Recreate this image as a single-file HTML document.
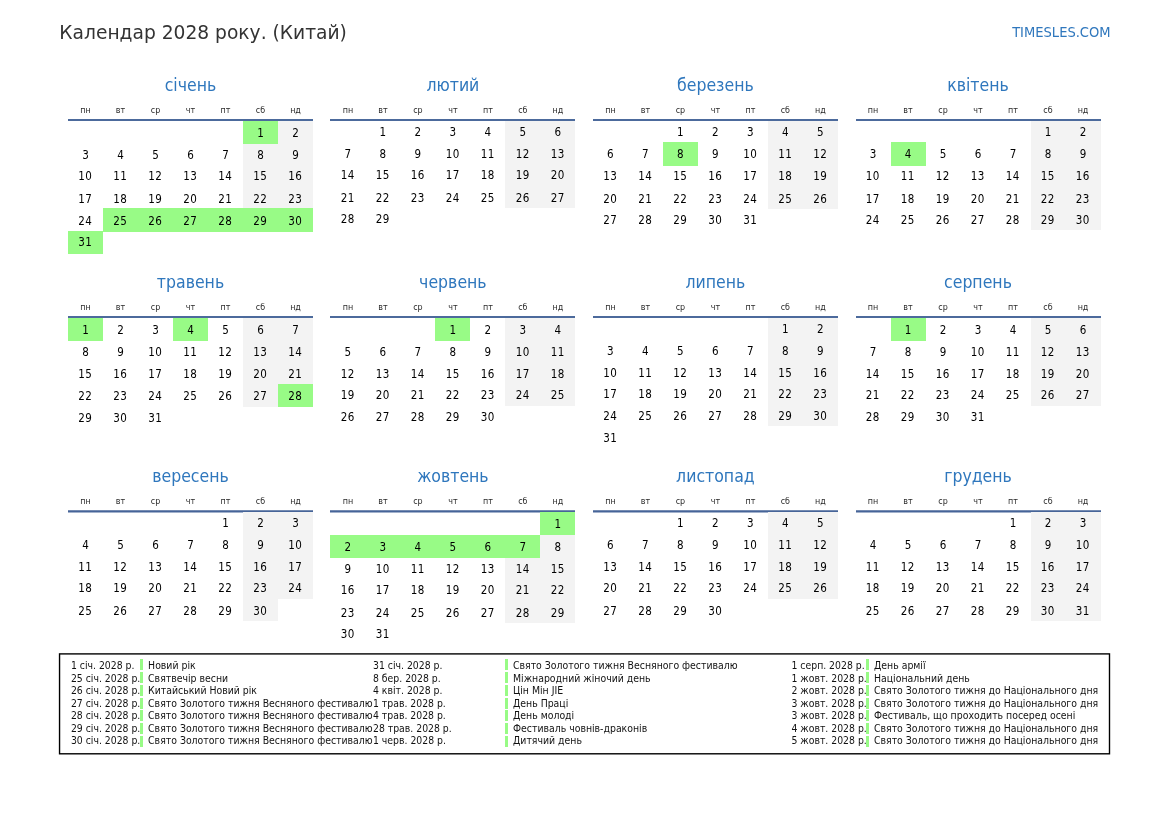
<!DOCTYPE html>
<html lang="uk"><head><meta charset="utf-8"><title>Календар 2028 року. (Китай)</title>
<style>
html,body{margin:0;padding:0;background:#fff}
body{width:1169px;height:827px;position:relative;overflow:hidden;font-family:"DejaVu Sans","Liberation Sans",sans-serif;color:#000}
.c{font-family:"DejaVu Sans Condensed","DejaVu Sans","Liberation Sans",sans-serif;font-stretch:condensed}
.a{position:absolute;white-space:nowrap}
.t{color:#333}
.b{color:#2f77bd}
.m{position:absolute;width:245px}
.mn{position:absolute;left:0;width:100%;text-align:center;color:#2f77bd;font-size:17.5px}
.wd{position:absolute;width:35px;text-align:center;font-size:8.9px;color:#2a2a2a}
.ln{position:absolute;left:0;width:100%;height:2px;background:#4c6a9c}
.ln3{top:0;height:3px;background:linear-gradient(to bottom,rgba(70,100,152,.75) 0,rgba(70,100,152,.75) 1px,rgb(70,100,152) 1px,rgb(70,100,152) 2px,rgba(70,100,152,.5) 2px,rgba(70,100,152,.5) 3px)}
.d{position:absolute;box-sizing:border-box;width:35px;text-align:center;font-size:11.5px;color:#000}
.w{letter-spacing:.42px;text-indent:-0.4px}
.g{background:#f3f3f3}
.h{background:#98fb86}
.hd,.hn{position:absolute;white-space:nowrap;font-size:10.4px;color:#111}
.hd{font-size:10.35px}
.bar{position:absolute;width:2.6px;background:#98fb86}
</style></head><body>

<div class="a t" style="left:59.3px;top:21.01px;font-size:18.67px;line-height:24.27px">Календар 2028 року. (Китай)</div>
<div class="a b c" style="right:58.40px;top:23.31px;font-size:14.55px;line-height:18.92px">TIMESLES.COM</div>
<div class="m c" style="left:68px;top:119.1px">
<div class="mn" style="top:-44.83px;line-height:22.75px">січень</div>
<div class="wd" style="left:0px;top:-14.06px;line-height:11.57px">пн</div>
<div class="wd" style="left:35px;top:-14.06px;line-height:11.57px">вт</div>
<div class="wd" style="left:70px;top:-14.06px;line-height:11.57px">ср</div>
<div class="wd" style="left:105px;top:-14.06px;line-height:11.57px">чт</div>
<div class="wd" style="left:140px;top:-14.06px;line-height:11.57px">пт</div>
<div class="wd" style="left:175px;top:-14.06px;line-height:11.57px">сб</div>
<div class="wd" style="left:210px;top:-14.06px;line-height:11.57px">нд</div>
<div class="ln" style="top:0"></div>
<div class="d h" style="left:175px;top:1.50px;height:23.45px;padding-top:0.4px;line-height:24.60px">1</div>
<div class="d g" style="left:210px;top:1.90px;height:22.75px;line-height:24.60px">2</div>
<div class="d" style="left:0px;top:24.60px;height:21.73px;line-height:23.20px">3</div>
<div class="d" style="left:35px;top:24.60px;height:21.73px;line-height:23.20px">4</div>
<div class="d" style="left:70px;top:24.60px;height:21.73px;line-height:23.20px">5</div>
<div class="d" style="left:105px;top:24.60px;height:21.73px;line-height:23.20px">6</div>
<div class="d" style="left:140px;top:24.60px;height:21.73px;line-height:23.20px">7</div>
<div class="d g" style="left:175px;top:24.60px;height:21.73px;line-height:23.20px">8</div>
<div class="d g" style="left:210px;top:24.60px;height:21.73px;line-height:23.20px">9</div>
<div class="d w" style="left:0px;top:46.28px;height:21.73px;line-height:23.84px">10</div>
<div class="d w" style="left:35px;top:46.28px;height:21.73px;line-height:23.84px">11</div>
<div class="d w" style="left:70px;top:46.28px;height:21.73px;line-height:23.84px">12</div>
<div class="d w" style="left:105px;top:46.28px;height:21.73px;line-height:23.84px">13</div>
<div class="d w" style="left:140px;top:46.28px;height:21.73px;line-height:23.84px">14</div>
<div class="d g w" style="left:175px;top:46.28px;height:21.73px;line-height:23.84px">15</div>
<div class="d g w" style="left:210px;top:46.28px;height:21.73px;line-height:23.84px">16</div>
<div class="d w" style="left:0px;top:67.96px;height:21.73px;line-height:24.48px">17</div>
<div class="d w" style="left:35px;top:67.96px;height:21.73px;line-height:24.48px">18</div>
<div class="d w" style="left:70px;top:67.96px;height:21.73px;line-height:24.48px">19</div>
<div class="d w" style="left:105px;top:67.96px;height:21.73px;line-height:24.48px">20</div>
<div class="d w" style="left:140px;top:67.96px;height:21.73px;line-height:24.48px">21</div>
<div class="d g w" style="left:175px;top:67.96px;height:21.73px;line-height:24.48px">22</div>
<div class="d g w" style="left:210px;top:67.96px;height:21.73px;line-height:24.48px">23</div>
<div class="d w" style="left:0px;top:89.64px;height:22.75px;line-height:25.12px">24</div>
<div class="d h w" style="left:35px;top:89.24px;height:23.45px;padding-top:0.4px;line-height:25.12px">25</div>
<div class="d h w" style="left:70px;top:89.24px;height:23.45px;padding-top:0.4px;line-height:25.12px">26</div>
<div class="d h w" style="left:105px;top:89.24px;height:23.45px;padding-top:0.4px;line-height:25.12px">27</div>
<div class="d h w" style="left:140px;top:89.24px;height:23.45px;padding-top:0.4px;line-height:25.12px">28</div>
<div class="d h w" style="left:175px;top:89.24px;height:23.45px;padding-top:0.4px;line-height:25.12px">29</div>
<div class="d h w" style="left:210px;top:89.24px;height:23.45px;padding-top:0.4px;line-height:25.12px">30</div>
<div class="d h w" style="left:0px;top:111.94px;height:23.45px;padding-top:0.4px;line-height:23.72px">31</div>
</div>
<div class="m c" style="left:330.4px;top:119.1px">
<div class="mn" style="top:-44.83px;line-height:22.75px">лютий</div>
<div class="wd" style="left:0px;top:-14.06px;line-height:11.57px">пн</div>
<div class="wd" style="left:35px;top:-14.06px;line-height:11.57px">вт</div>
<div class="wd" style="left:70px;top:-14.06px;line-height:11.57px">ср</div>
<div class="wd" style="left:105px;top:-14.06px;line-height:11.57px">чт</div>
<div class="wd" style="left:140px;top:-14.06px;line-height:11.57px">пт</div>
<div class="wd" style="left:175px;top:-14.06px;line-height:11.57px">сб</div>
<div class="wd" style="left:210px;top:-14.06px;line-height:11.57px">нд</div>
<div class="ln" style="top:0"></div>
<div class="d" style="left:35px;top:1.90px;height:21.73px;line-height:22.60px">1</div>
<div class="d" style="left:70px;top:1.90px;height:21.73px;line-height:22.60px">2</div>
<div class="d" style="left:105px;top:1.90px;height:21.73px;line-height:22.60px">3</div>
<div class="d" style="left:140px;top:1.90px;height:21.73px;line-height:22.60px">4</div>
<div class="d g" style="left:175px;top:1.90px;height:21.73px;line-height:22.60px">5</div>
<div class="d g" style="left:210px;top:1.90px;height:21.73px;line-height:22.60px">6</div>
<div class="d" style="left:0px;top:23.58px;height:21.73px;line-height:23.24px">7</div>
<div class="d" style="left:35px;top:23.58px;height:21.73px;line-height:23.24px">8</div>
<div class="d" style="left:70px;top:23.58px;height:21.73px;line-height:23.24px">9</div>
<div class="d w" style="left:105px;top:23.58px;height:21.73px;line-height:23.24px">10</div>
<div class="d w" style="left:140px;top:23.58px;height:21.73px;line-height:23.24px">11</div>
<div class="d g w" style="left:175px;top:23.58px;height:21.73px;line-height:23.24px">12</div>
<div class="d g w" style="left:210px;top:23.58px;height:21.73px;line-height:23.24px">13</div>
<div class="d w" style="left:0px;top:45.26px;height:21.73px;line-height:23.88px">14</div>
<div class="d w" style="left:35px;top:45.26px;height:21.73px;line-height:23.88px">15</div>
<div class="d w" style="left:70px;top:45.26px;height:21.73px;line-height:23.88px">16</div>
<div class="d w" style="left:105px;top:45.26px;height:21.73px;line-height:23.88px">17</div>
<div class="d w" style="left:140px;top:45.26px;height:21.73px;line-height:23.88px">18</div>
<div class="d g w" style="left:175px;top:45.26px;height:21.73px;line-height:23.88px">19</div>
<div class="d g w" style="left:210px;top:45.26px;height:21.73px;line-height:23.88px">20</div>
<div class="d w" style="left:0px;top:66.94px;height:21.73px;line-height:24.52px">21</div>
<div class="d w" style="left:35px;top:66.94px;height:21.73px;line-height:24.52px">22</div>
<div class="d w" style="left:70px;top:66.94px;height:21.73px;line-height:24.52px">23</div>
<div class="d w" style="left:105px;top:66.94px;height:21.73px;line-height:24.52px">24</div>
<div class="d w" style="left:140px;top:66.94px;height:21.73px;line-height:24.52px">25</div>
<div class="d g w" style="left:175px;top:66.94px;height:21.73px;line-height:24.52px">26</div>
<div class="d g w" style="left:210px;top:66.94px;height:21.73px;line-height:24.52px">27</div>
<div class="d w" style="left:0px;top:88.62px;height:21.73px;line-height:23.16px">28</div>
<div class="d w" style="left:35px;top:88.62px;height:21.73px;line-height:23.16px">29</div>
</div>
<div class="m c" style="left:592.9px;top:119.1px">
<div class="mn" style="top:-44.83px;line-height:22.75px">березень</div>
<div class="wd" style="left:0px;top:-14.06px;line-height:11.57px">пн</div>
<div class="wd" style="left:35px;top:-14.06px;line-height:11.57px">вт</div>
<div class="wd" style="left:70px;top:-14.06px;line-height:11.57px">ср</div>
<div class="wd" style="left:105px;top:-14.06px;line-height:11.57px">чт</div>
<div class="wd" style="left:140px;top:-14.06px;line-height:11.57px">пт</div>
<div class="wd" style="left:175px;top:-14.06px;line-height:11.57px">сб</div>
<div class="wd" style="left:210px;top:-14.06px;line-height:11.57px">нд</div>
<div class="ln" style="top:0"></div>
<div class="d" style="left:70px;top:1.90px;height:21.73px;line-height:22.60px">1</div>
<div class="d" style="left:105px;top:1.90px;height:21.73px;line-height:22.60px">2</div>
<div class="d" style="left:140px;top:1.90px;height:21.73px;line-height:22.60px">3</div>
<div class="d g" style="left:175px;top:1.90px;height:21.73px;line-height:22.60px">4</div>
<div class="d g" style="left:210px;top:1.90px;height:21.73px;line-height:22.60px">5</div>
<div class="d" style="left:0px;top:23.58px;height:22.75px;line-height:23.24px">6</div>
<div class="d" style="left:35px;top:23.58px;height:22.75px;line-height:23.24px">7</div>
<div class="d h" style="left:70px;top:23.18px;height:23.45px;padding-top:0.4px;line-height:23.24px">8</div>
<div class="d" style="left:105px;top:23.58px;height:22.75px;line-height:23.24px">9</div>
<div class="d w" style="left:140px;top:23.58px;height:22.75px;line-height:23.24px">10</div>
<div class="d g w" style="left:175px;top:23.58px;height:22.75px;line-height:23.24px">11</div>
<div class="d g w" style="left:210px;top:23.58px;height:22.75px;line-height:23.24px">12</div>
<div class="d w" style="left:0px;top:46.28px;height:21.73px;line-height:23.84px">13</div>
<div class="d w" style="left:35px;top:46.28px;height:21.73px;line-height:23.84px">14</div>
<div class="d w" style="left:70px;top:46.28px;height:21.73px;line-height:23.84px">15</div>
<div class="d w" style="left:105px;top:46.28px;height:21.73px;line-height:23.84px">16</div>
<div class="d w" style="left:140px;top:46.28px;height:21.73px;line-height:23.84px">17</div>
<div class="d g w" style="left:175px;top:46.28px;height:21.73px;line-height:23.84px">18</div>
<div class="d g w" style="left:210px;top:46.28px;height:21.73px;line-height:23.84px">19</div>
<div class="d w" style="left:0px;top:67.96px;height:21.73px;line-height:24.48px">20</div>
<div class="d w" style="left:35px;top:67.96px;height:21.73px;line-height:24.48px">21</div>
<div class="d w" style="left:70px;top:67.96px;height:21.73px;line-height:24.48px">22</div>
<div class="d w" style="left:105px;top:67.96px;height:21.73px;line-height:24.48px">23</div>
<div class="d w" style="left:140px;top:67.96px;height:21.73px;line-height:24.48px">24</div>
<div class="d g w" style="left:175px;top:67.96px;height:21.73px;line-height:24.48px">25</div>
<div class="d g w" style="left:210px;top:67.96px;height:21.73px;line-height:24.48px">26</div>
<div class="d w" style="left:0px;top:89.64px;height:21.73px;line-height:23.12px">27</div>
<div class="d w" style="left:35px;top:89.64px;height:21.73px;line-height:23.12px">28</div>
<div class="d w" style="left:70px;top:89.64px;height:21.73px;line-height:23.12px">29</div>
<div class="d w" style="left:105px;top:89.64px;height:21.73px;line-height:23.12px">30</div>
<div class="d w" style="left:140px;top:89.64px;height:21.73px;line-height:23.12px">31</div>
</div>
<div class="m c" style="left:855.5px;top:119.1px">
<div class="mn" style="top:-44.83px;line-height:22.75px">квітень</div>
<div class="wd" style="left:0px;top:-14.06px;line-height:11.57px">пн</div>
<div class="wd" style="left:35px;top:-14.06px;line-height:11.57px">вт</div>
<div class="wd" style="left:70px;top:-14.06px;line-height:11.57px">ср</div>
<div class="wd" style="left:105px;top:-14.06px;line-height:11.57px">чт</div>
<div class="wd" style="left:140px;top:-14.06px;line-height:11.57px">пт</div>
<div class="wd" style="left:175px;top:-14.06px;line-height:11.57px">сб</div>
<div class="wd" style="left:210px;top:-14.06px;line-height:11.57px">нд</div>
<div class="ln" style="top:0"></div>
<div class="d g" style="left:175px;top:1.90px;height:21.73px;line-height:22.60px">1</div>
<div class="d g" style="left:210px;top:1.90px;height:21.73px;line-height:22.60px">2</div>
<div class="d" style="left:0px;top:23.58px;height:22.75px;line-height:23.24px">3</div>
<div class="d h" style="left:35px;top:23.18px;height:23.45px;padding-top:0.4px;line-height:23.24px">4</div>
<div class="d" style="left:70px;top:23.58px;height:22.75px;line-height:23.24px">5</div>
<div class="d" style="left:105px;top:23.58px;height:22.75px;line-height:23.24px">6</div>
<div class="d" style="left:140px;top:23.58px;height:22.75px;line-height:23.24px">7</div>
<div class="d g" style="left:175px;top:23.58px;height:22.75px;line-height:23.24px">8</div>
<div class="d g" style="left:210px;top:23.58px;height:22.75px;line-height:23.24px">9</div>
<div class="d w" style="left:0px;top:46.28px;height:21.73px;line-height:23.84px">10</div>
<div class="d w" style="left:35px;top:46.28px;height:21.73px;line-height:23.84px">11</div>
<div class="d w" style="left:70px;top:46.28px;height:21.73px;line-height:23.84px">12</div>
<div class="d w" style="left:105px;top:46.28px;height:21.73px;line-height:23.84px">13</div>
<div class="d w" style="left:140px;top:46.28px;height:21.73px;line-height:23.84px">14</div>
<div class="d g w" style="left:175px;top:46.28px;height:21.73px;line-height:23.84px">15</div>
<div class="d g w" style="left:210px;top:46.28px;height:21.73px;line-height:23.84px">16</div>
<div class="d w" style="left:0px;top:67.96px;height:21.73px;line-height:24.48px">17</div>
<div class="d w" style="left:35px;top:67.96px;height:21.73px;line-height:24.48px">18</div>
<div class="d w" style="left:70px;top:67.96px;height:21.73px;line-height:24.48px">19</div>
<div class="d w" style="left:105px;top:67.96px;height:21.73px;line-height:24.48px">20</div>
<div class="d w" style="left:140px;top:67.96px;height:21.73px;line-height:24.48px">21</div>
<div class="d g w" style="left:175px;top:67.96px;height:21.73px;line-height:24.48px">22</div>
<div class="d g w" style="left:210px;top:67.96px;height:21.73px;line-height:24.48px">23</div>
<div class="d w" style="left:0px;top:89.64px;height:21.73px;line-height:23.12px">24</div>
<div class="d w" style="left:35px;top:89.64px;height:21.73px;line-height:23.12px">25</div>
<div class="d w" style="left:70px;top:89.64px;height:21.73px;line-height:23.12px">26</div>
<div class="d w" style="left:105px;top:89.64px;height:21.73px;line-height:23.12px">27</div>
<div class="d w" style="left:140px;top:89.64px;height:21.73px;line-height:23.12px">28</div>
<div class="d g w" style="left:175px;top:89.64px;height:21.73px;line-height:23.12px">29</div>
<div class="d g w" style="left:210px;top:89.64px;height:21.73px;line-height:23.12px">30</div>
</div>
<div class="m c" style="left:68px;top:316px">
<div class="mn" style="top:-44.83px;line-height:22.75px">травень</div>
<div class="wd" style="left:0px;top:-14.06px;line-height:11.57px">пн</div>
<div class="wd" style="left:35px;top:-14.06px;line-height:11.57px">вт</div>
<div class="wd" style="left:70px;top:-14.06px;line-height:11.57px">ср</div>
<div class="wd" style="left:105px;top:-14.06px;line-height:11.57px">чт</div>
<div class="wd" style="left:140px;top:-14.06px;line-height:11.57px">пт</div>
<div class="wd" style="left:175px;top:-14.06px;line-height:11.57px">сб</div>
<div class="wd" style="left:210px;top:-14.06px;line-height:11.57px">нд</div>
<div class="ln" style="top:0"></div>
<div class="d h" style="left:0px;top:1.50px;height:23.45px;padding-top:0.4px;line-height:24.80px">1</div>
<div class="d" style="left:35px;top:1.90px;height:22.75px;line-height:24.80px">2</div>
<div class="d" style="left:70px;top:1.90px;height:22.75px;line-height:24.80px">3</div>
<div class="d h" style="left:105px;top:1.50px;height:23.45px;padding-top:0.4px;line-height:24.80px">4</div>
<div class="d" style="left:140px;top:1.90px;height:22.75px;line-height:24.80px">5</div>
<div class="d g" style="left:175px;top:1.90px;height:22.75px;line-height:24.80px">6</div>
<div class="d g" style="left:210px;top:1.90px;height:22.75px;line-height:24.80px">7</div>
<div class="d" style="left:0px;top:24.60px;height:21.73px;line-height:23.40px">8</div>
<div class="d" style="left:35px;top:24.60px;height:21.73px;line-height:23.40px">9</div>
<div class="d w" style="left:70px;top:24.60px;height:21.73px;line-height:23.40px">10</div>
<div class="d w" style="left:105px;top:24.60px;height:21.73px;line-height:23.40px">11</div>
<div class="d w" style="left:140px;top:24.60px;height:21.73px;line-height:23.40px">12</div>
<div class="d g w" style="left:175px;top:24.60px;height:21.73px;line-height:23.40px">13</div>
<div class="d g w" style="left:210px;top:24.60px;height:21.73px;line-height:23.40px">14</div>
<div class="d w" style="left:0px;top:46.28px;height:21.73px;line-height:24.04px">15</div>
<div class="d w" style="left:35px;top:46.28px;height:21.73px;line-height:24.04px">16</div>
<div class="d w" style="left:70px;top:46.28px;height:21.73px;line-height:24.04px">17</div>
<div class="d w" style="left:105px;top:46.28px;height:21.73px;line-height:24.04px">18</div>
<div class="d w" style="left:140px;top:46.28px;height:21.73px;line-height:24.04px">19</div>
<div class="d g w" style="left:175px;top:46.28px;height:21.73px;line-height:24.04px">20</div>
<div class="d g w" style="left:210px;top:46.28px;height:21.73px;line-height:24.04px">21</div>
<div class="d w" style="left:0px;top:67.96px;height:22.75px;line-height:24.68px">22</div>
<div class="d w" style="left:35px;top:67.96px;height:22.75px;line-height:24.68px">23</div>
<div class="d w" style="left:70px;top:67.96px;height:22.75px;line-height:24.68px">24</div>
<div class="d w" style="left:105px;top:67.96px;height:22.75px;line-height:24.68px">25</div>
<div class="d w" style="left:140px;top:67.96px;height:22.75px;line-height:24.68px">26</div>
<div class="d g w" style="left:175px;top:67.96px;height:22.75px;line-height:24.68px">27</div>
<div class="d h w" style="left:210px;top:67.56px;height:23.45px;padding-top:0.4px;line-height:24.68px">28</div>
<div class="d w" style="left:0px;top:90.66px;height:21.73px;line-height:23.28px">29</div>
<div class="d w" style="left:35px;top:90.66px;height:21.73px;line-height:23.28px">30</div>
<div class="d w" style="left:70px;top:90.66px;height:21.73px;line-height:23.28px">31</div>
</div>
<div class="m c" style="left:330.4px;top:316px">
<div class="mn" style="top:-44.83px;line-height:22.75px">червень</div>
<div class="wd" style="left:0px;top:-14.06px;line-height:11.57px">пн</div>
<div class="wd" style="left:35px;top:-14.06px;line-height:11.57px">вт</div>
<div class="wd" style="left:70px;top:-14.06px;line-height:11.57px">ср</div>
<div class="wd" style="left:105px;top:-14.06px;line-height:11.57px">чт</div>
<div class="wd" style="left:140px;top:-14.06px;line-height:11.57px">пт</div>
<div class="wd" style="left:175px;top:-14.06px;line-height:11.57px">сб</div>
<div class="wd" style="left:210px;top:-14.06px;line-height:11.57px">нд</div>
<div class="ln" style="top:0"></div>
<div class="d h" style="left:105px;top:1.50px;height:23.45px;padding-top:0.4px;line-height:24.80px">1</div>
<div class="d" style="left:140px;top:1.90px;height:22.75px;line-height:24.80px">2</div>
<div class="d g" style="left:175px;top:1.90px;height:22.75px;line-height:24.80px">3</div>
<div class="d g" style="left:210px;top:1.90px;height:22.75px;line-height:24.80px">4</div>
<div class="d" style="left:0px;top:24.60px;height:21.73px;line-height:23.40px">5</div>
<div class="d" style="left:35px;top:24.60px;height:21.73px;line-height:23.40px">6</div>
<div class="d" style="left:70px;top:24.60px;height:21.73px;line-height:23.40px">7</div>
<div class="d" style="left:105px;top:24.60px;height:21.73px;line-height:23.40px">8</div>
<div class="d" style="left:140px;top:24.60px;height:21.73px;line-height:23.40px">9</div>
<div class="d g w" style="left:175px;top:24.60px;height:21.73px;line-height:23.40px">10</div>
<div class="d g w" style="left:210px;top:24.60px;height:21.73px;line-height:23.40px">11</div>
<div class="d w" style="left:0px;top:46.28px;height:21.73px;line-height:24.04px">12</div>
<div class="d w" style="left:35px;top:46.28px;height:21.73px;line-height:24.04px">13</div>
<div class="d w" style="left:70px;top:46.28px;height:21.73px;line-height:24.04px">14</div>
<div class="d w" style="left:105px;top:46.28px;height:21.73px;line-height:24.04px">15</div>
<div class="d w" style="left:140px;top:46.28px;height:21.73px;line-height:24.04px">16</div>
<div class="d g w" style="left:175px;top:46.28px;height:21.73px;line-height:24.04px">17</div>
<div class="d g w" style="left:210px;top:46.28px;height:21.73px;line-height:24.04px">18</div>
<div class="d w" style="left:0px;top:67.96px;height:21.73px;line-height:22.68px">19</div>
<div class="d w" style="left:35px;top:67.96px;height:21.73px;line-height:22.68px">20</div>
<div class="d w" style="left:70px;top:67.96px;height:21.73px;line-height:22.68px">21</div>
<div class="d w" style="left:105px;top:67.96px;height:21.73px;line-height:22.68px">22</div>
<div class="d w" style="left:140px;top:67.96px;height:21.73px;line-height:22.68px">23</div>
<div class="d g w" style="left:175px;top:67.96px;height:21.73px;line-height:22.68px">24</div>
<div class="d g w" style="left:210px;top:67.96px;height:21.73px;line-height:22.68px">25</div>
<div class="d w" style="left:0px;top:89.64px;height:21.73px;line-height:23.32px">26</div>
<div class="d w" style="left:35px;top:89.64px;height:21.73px;line-height:23.32px">27</div>
<div class="d w" style="left:70px;top:89.64px;height:21.73px;line-height:23.32px">28</div>
<div class="d w" style="left:105px;top:89.64px;height:21.73px;line-height:23.32px">29</div>
<div class="d w" style="left:140px;top:89.64px;height:21.73px;line-height:23.32px">30</div>
</div>
<div class="m c" style="left:592.9px;top:316px">
<div class="mn" style="top:-44.83px;line-height:22.75px">липень</div>
<div class="wd" style="left:0px;top:-14.06px;line-height:11.57px">пн</div>
<div class="wd" style="left:35px;top:-14.06px;line-height:11.57px">вт</div>
<div class="wd" style="left:70px;top:-14.06px;line-height:11.57px">ср</div>
<div class="wd" style="left:105px;top:-14.06px;line-height:11.57px">чт</div>
<div class="wd" style="left:140px;top:-14.06px;line-height:11.57px">пт</div>
<div class="wd" style="left:175px;top:-14.06px;line-height:11.57px">сб</div>
<div class="wd" style="left:210px;top:-14.06px;line-height:11.57px">нд</div>
<div class="ln" style="top:0"></div>
<div class="d g" style="left:175px;top:1.90px;height:21.73px;line-height:22.80px">1</div>
<div class="d g" style="left:210px;top:1.90px;height:21.73px;line-height:22.80px">2</div>
<div class="d" style="left:0px;top:23.58px;height:21.73px;line-height:23.44px">3</div>
<div class="d" style="left:35px;top:23.58px;height:21.73px;line-height:23.44px">4</div>
<div class="d" style="left:70px;top:23.58px;height:21.73px;line-height:23.44px">5</div>
<div class="d" style="left:105px;top:23.58px;height:21.73px;line-height:23.44px">6</div>
<div class="d" style="left:140px;top:23.58px;height:21.73px;line-height:23.44px">7</div>
<div class="d g" style="left:175px;top:23.58px;height:21.73px;line-height:23.44px">8</div>
<div class="d g" style="left:210px;top:23.58px;height:21.73px;line-height:23.44px">9</div>
<div class="d w" style="left:0px;top:45.26px;height:21.73px;line-height:24.08px">10</div>
<div class="d w" style="left:35px;top:45.26px;height:21.73px;line-height:24.08px">11</div>
<div class="d w" style="left:70px;top:45.26px;height:21.73px;line-height:24.08px">12</div>
<div class="d w" style="left:105px;top:45.26px;height:21.73px;line-height:24.08px">13</div>
<div class="d w" style="left:140px;top:45.26px;height:21.73px;line-height:24.08px">14</div>
<div class="d g w" style="left:175px;top:45.26px;height:21.73px;line-height:24.08px">15</div>
<div class="d g w" style="left:210px;top:45.26px;height:21.73px;line-height:24.08px">16</div>
<div class="d w" style="left:0px;top:66.94px;height:21.73px;line-height:22.72px">17</div>
<div class="d w" style="left:35px;top:66.94px;height:21.73px;line-height:22.72px">18</div>
<div class="d w" style="left:70px;top:66.94px;height:21.73px;line-height:22.72px">19</div>
<div class="d w" style="left:105px;top:66.94px;height:21.73px;line-height:22.72px">20</div>
<div class="d w" style="left:140px;top:66.94px;height:21.73px;line-height:22.72px">21</div>
<div class="d g w" style="left:175px;top:66.94px;height:21.73px;line-height:22.72px">22</div>
<div class="d g w" style="left:210px;top:66.94px;height:21.73px;line-height:22.72px">23</div>
<div class="d w" style="left:0px;top:88.62px;height:21.73px;line-height:23.36px">24</div>
<div class="d w" style="left:35px;top:88.62px;height:21.73px;line-height:23.36px">25</div>
<div class="d w" style="left:70px;top:88.62px;height:21.73px;line-height:23.36px">26</div>
<div class="d w" style="left:105px;top:88.62px;height:21.73px;line-height:23.36px">27</div>
<div class="d w" style="left:140px;top:88.62px;height:21.73px;line-height:23.36px">28</div>
<div class="d g w" style="left:175px;top:88.62px;height:21.73px;line-height:23.36px">29</div>
<div class="d g w" style="left:210px;top:88.62px;height:21.73px;line-height:23.36px">30</div>
<div class="d w" style="left:0px;top:110.30px;height:21.73px;line-height:24.00px">31</div>
</div>
<div class="m c" style="left:855.5px;top:316px">
<div class="mn" style="top:-44.83px;line-height:22.75px">серпень</div>
<div class="wd" style="left:0px;top:-14.06px;line-height:11.57px">пн</div>
<div class="wd" style="left:35px;top:-14.06px;line-height:11.57px">вт</div>
<div class="wd" style="left:70px;top:-14.06px;line-height:11.57px">ср</div>
<div class="wd" style="left:105px;top:-14.06px;line-height:11.57px">чт</div>
<div class="wd" style="left:140px;top:-14.06px;line-height:11.57px">пт</div>
<div class="wd" style="left:175px;top:-14.06px;line-height:11.57px">сб</div>
<div class="wd" style="left:210px;top:-14.06px;line-height:11.57px">нд</div>
<div class="ln" style="top:0"></div>
<div class="d h" style="left:35px;top:1.50px;height:23.45px;padding-top:0.4px;line-height:24.80px">1</div>
<div class="d" style="left:70px;top:1.90px;height:22.75px;line-height:24.80px">2</div>
<div class="d" style="left:105px;top:1.90px;height:22.75px;line-height:24.80px">3</div>
<div class="d" style="left:140px;top:1.90px;height:22.75px;line-height:24.80px">4</div>
<div class="d g" style="left:175px;top:1.90px;height:22.75px;line-height:24.80px">5</div>
<div class="d g" style="left:210px;top:1.90px;height:22.75px;line-height:24.80px">6</div>
<div class="d" style="left:0px;top:24.60px;height:21.73px;line-height:23.40px">7</div>
<div class="d" style="left:35px;top:24.60px;height:21.73px;line-height:23.40px">8</div>
<div class="d" style="left:70px;top:24.60px;height:21.73px;line-height:23.40px">9</div>
<div class="d w" style="left:105px;top:24.60px;height:21.73px;line-height:23.40px">10</div>
<div class="d w" style="left:140px;top:24.60px;height:21.73px;line-height:23.40px">11</div>
<div class="d g w" style="left:175px;top:24.60px;height:21.73px;line-height:23.40px">12</div>
<div class="d g w" style="left:210px;top:24.60px;height:21.73px;line-height:23.40px">13</div>
<div class="d w" style="left:0px;top:46.28px;height:21.73px;line-height:24.04px">14</div>
<div class="d w" style="left:35px;top:46.28px;height:21.73px;line-height:24.04px">15</div>
<div class="d w" style="left:70px;top:46.28px;height:21.73px;line-height:24.04px">16</div>
<div class="d w" style="left:105px;top:46.28px;height:21.73px;line-height:24.04px">17</div>
<div class="d w" style="left:140px;top:46.28px;height:21.73px;line-height:24.04px">18</div>
<div class="d g w" style="left:175px;top:46.28px;height:21.73px;line-height:24.04px">19</div>
<div class="d g w" style="left:210px;top:46.28px;height:21.73px;line-height:24.04px">20</div>
<div class="d w" style="left:0px;top:67.96px;height:21.73px;line-height:22.68px">21</div>
<div class="d w" style="left:35px;top:67.96px;height:21.73px;line-height:22.68px">22</div>
<div class="d w" style="left:70px;top:67.96px;height:21.73px;line-height:22.68px">23</div>
<div class="d w" style="left:105px;top:67.96px;height:21.73px;line-height:22.68px">24</div>
<div class="d w" style="left:140px;top:67.96px;height:21.73px;line-height:22.68px">25</div>
<div class="d g w" style="left:175px;top:67.96px;height:21.73px;line-height:22.68px">26</div>
<div class="d g w" style="left:210px;top:67.96px;height:21.73px;line-height:22.68px">27</div>
<div class="d w" style="left:0px;top:89.64px;height:21.73px;line-height:23.32px">28</div>
<div class="d w" style="left:35px;top:89.64px;height:21.73px;line-height:23.32px">29</div>
<div class="d w" style="left:70px;top:89.64px;height:21.73px;line-height:23.32px">30</div>
<div class="d w" style="left:105px;top:89.64px;height:21.73px;line-height:23.32px">31</div>
</div>
<div class="m c" style="left:68px;top:510.4px">
<div class="mn" style="top:-45.63px;line-height:22.75px">вересень</div>
<div class="wd" style="left:0px;top:-14.06px;line-height:11.57px">пн</div>
<div class="wd" style="left:35px;top:-14.06px;line-height:11.57px">вт</div>
<div class="wd" style="left:70px;top:-14.06px;line-height:11.57px">ср</div>
<div class="wd" style="left:105px;top:-14.06px;line-height:11.57px">чт</div>
<div class="wd" style="left:140px;top:-14.06px;line-height:11.57px">пт</div>
<div class="wd" style="left:175px;top:-14.06px;line-height:11.57px">сб</div>
<div class="wd" style="left:210px;top:-14.06px;line-height:11.57px">нд</div>
<div class="ln ln3"></div>
<div class="d" style="left:140px;top:1.90px;height:21.73px;line-height:22.00px">1</div>
<div class="d g" style="left:175px;top:1.90px;height:21.73px;line-height:22.00px">2</div>
<div class="d g" style="left:210px;top:1.90px;height:21.73px;line-height:22.00px">3</div>
<div class="d" style="left:0px;top:23.58px;height:21.73px;line-height:22.64px">4</div>
<div class="d" style="left:35px;top:23.58px;height:21.73px;line-height:22.64px">5</div>
<div class="d" style="left:70px;top:23.58px;height:21.73px;line-height:22.64px">6</div>
<div class="d" style="left:105px;top:23.58px;height:21.73px;line-height:22.64px">7</div>
<div class="d" style="left:140px;top:23.58px;height:21.73px;line-height:22.64px">8</div>
<div class="d g" style="left:175px;top:23.58px;height:21.73px;line-height:22.64px">9</div>
<div class="d g w" style="left:210px;top:23.58px;height:21.73px;line-height:22.64px">10</div>
<div class="d w" style="left:0px;top:45.26px;height:21.73px;line-height:23.28px">11</div>
<div class="d w" style="left:35px;top:45.26px;height:21.73px;line-height:23.28px">12</div>
<div class="d w" style="left:70px;top:45.26px;height:21.73px;line-height:23.28px">13</div>
<div class="d w" style="left:105px;top:45.26px;height:21.73px;line-height:23.28px">14</div>
<div class="d w" style="left:140px;top:45.26px;height:21.73px;line-height:23.28px">15</div>
<div class="d g w" style="left:175px;top:45.26px;height:21.73px;line-height:23.28px">16</div>
<div class="d g w" style="left:210px;top:45.26px;height:21.73px;line-height:23.28px">17</div>
<div class="d w" style="left:0px;top:66.94px;height:21.73px;line-height:23.92px">18</div>
<div class="d w" style="left:35px;top:66.94px;height:21.73px;line-height:23.92px">19</div>
<div class="d w" style="left:70px;top:66.94px;height:21.73px;line-height:23.92px">20</div>
<div class="d w" style="left:105px;top:66.94px;height:21.73px;line-height:23.92px">21</div>
<div class="d w" style="left:140px;top:66.94px;height:21.73px;line-height:23.92px">22</div>
<div class="d g w" style="left:175px;top:66.94px;height:21.73px;line-height:23.92px">23</div>
<div class="d g w" style="left:210px;top:66.94px;height:21.73px;line-height:23.92px">24</div>
<div class="d w" style="left:0px;top:88.62px;height:21.73px;line-height:24.56px">25</div>
<div class="d w" style="left:35px;top:88.62px;height:21.73px;line-height:24.56px">26</div>
<div class="d w" style="left:70px;top:88.62px;height:21.73px;line-height:24.56px">27</div>
<div class="d w" style="left:105px;top:88.62px;height:21.73px;line-height:24.56px">28</div>
<div class="d w" style="left:140px;top:88.62px;height:21.73px;line-height:24.56px">29</div>
<div class="d g w" style="left:175px;top:88.62px;height:21.73px;line-height:24.56px">30</div>
</div>
<div class="m c" style="left:330.4px;top:510.4px">
<div class="mn" style="top:-45.63px;line-height:22.75px">жовтень</div>
<div class="wd" style="left:0px;top:-14.06px;line-height:11.57px">пн</div>
<div class="wd" style="left:35px;top:-14.06px;line-height:11.57px">вт</div>
<div class="wd" style="left:70px;top:-14.06px;line-height:11.57px">ср</div>
<div class="wd" style="left:105px;top:-14.06px;line-height:11.57px">чт</div>
<div class="wd" style="left:140px;top:-14.06px;line-height:11.57px">пт</div>
<div class="wd" style="left:175px;top:-14.06px;line-height:11.57px">сб</div>
<div class="wd" style="left:210px;top:-14.06px;line-height:11.57px">нд</div>
<div class="ln ln3"></div>
<div class="d h" style="left:210px;top:1.50px;height:23.45px;padding-top:0.4px;line-height:24.00px">1</div>
<div class="d h" style="left:0px;top:24.20px;height:23.45px;padding-top:0.4px;line-height:24.60px">2</div>
<div class="d h" style="left:35px;top:24.20px;height:23.45px;padding-top:0.4px;line-height:24.60px">3</div>
<div class="d h" style="left:70px;top:24.20px;height:23.45px;padding-top:0.4px;line-height:24.60px">4</div>
<div class="d h" style="left:105px;top:24.20px;height:23.45px;padding-top:0.4px;line-height:24.60px">5</div>
<div class="d h" style="left:140px;top:24.20px;height:23.45px;padding-top:0.4px;line-height:24.60px">6</div>
<div class="d h" style="left:175px;top:24.20px;height:23.45px;padding-top:0.4px;line-height:24.60px">7</div>
<div class="d g" style="left:210px;top:24.60px;height:22.75px;line-height:24.60px">8</div>
<div class="d" style="left:0px;top:47.30px;height:21.73px;line-height:23.20px">9</div>
<div class="d w" style="left:35px;top:47.30px;height:21.73px;line-height:23.20px">10</div>
<div class="d w" style="left:70px;top:47.30px;height:21.73px;line-height:23.20px">11</div>
<div class="d w" style="left:105px;top:47.30px;height:21.73px;line-height:23.20px">12</div>
<div class="d w" style="left:140px;top:47.30px;height:21.73px;line-height:23.20px">13</div>
<div class="d g w" style="left:175px;top:47.30px;height:21.73px;line-height:23.20px">14</div>
<div class="d g w" style="left:210px;top:47.30px;height:21.73px;line-height:23.20px">15</div>
<div class="d w" style="left:0px;top:68.98px;height:21.73px;line-height:23.84px">16</div>
<div class="d w" style="left:35px;top:68.98px;height:21.73px;line-height:23.84px">17</div>
<div class="d w" style="left:70px;top:68.98px;height:21.73px;line-height:23.84px">18</div>
<div class="d w" style="left:105px;top:68.98px;height:21.73px;line-height:23.84px">19</div>
<div class="d w" style="left:140px;top:68.98px;height:21.73px;line-height:23.84px">20</div>
<div class="d g w" style="left:175px;top:68.98px;height:21.73px;line-height:23.84px">21</div>
<div class="d g w" style="left:210px;top:68.98px;height:21.73px;line-height:23.84px">22</div>
<div class="d w" style="left:0px;top:90.66px;height:21.73px;line-height:24.48px">23</div>
<div class="d w" style="left:35px;top:90.66px;height:21.73px;line-height:24.48px">24</div>
<div class="d w" style="left:70px;top:90.66px;height:21.73px;line-height:24.48px">25</div>
<div class="d w" style="left:105px;top:90.66px;height:21.73px;line-height:24.48px">26</div>
<div class="d w" style="left:140px;top:90.66px;height:21.73px;line-height:24.48px">27</div>
<div class="d g w" style="left:175px;top:90.66px;height:21.73px;line-height:24.48px">28</div>
<div class="d g w" style="left:210px;top:90.66px;height:21.73px;line-height:24.48px">29</div>
<div class="d w" style="left:0px;top:112.34px;height:21.73px;line-height:23.12px">30</div>
<div class="d w" style="left:35px;top:112.34px;height:21.73px;line-height:23.12px">31</div>
</div>
<div class="m c" style="left:592.9px;top:510.4px">
<div class="mn" style="top:-45.63px;line-height:22.75px">листопад</div>
<div class="wd" style="left:0px;top:-14.06px;line-height:11.57px">пн</div>
<div class="wd" style="left:35px;top:-14.06px;line-height:11.57px">вт</div>
<div class="wd" style="left:70px;top:-14.06px;line-height:11.57px">ср</div>
<div class="wd" style="left:105px;top:-14.06px;line-height:11.57px">чт</div>
<div class="wd" style="left:140px;top:-14.06px;line-height:11.57px">пт</div>
<div class="wd" style="left:175px;top:-14.06px;line-height:11.57px">сб</div>
<div class="wd" style="left:210px;top:-14.06px;line-height:11.57px">нд</div>
<div class="ln ln3"></div>
<div class="d" style="left:70px;top:1.90px;height:21.73px;line-height:22.00px">1</div>
<div class="d" style="left:105px;top:1.90px;height:21.73px;line-height:22.00px">2</div>
<div class="d" style="left:140px;top:1.90px;height:21.73px;line-height:22.00px">3</div>
<div class="d g" style="left:175px;top:1.90px;height:21.73px;line-height:22.00px">4</div>
<div class="d g" style="left:210px;top:1.90px;height:21.73px;line-height:22.00px">5</div>
<div class="d" style="left:0px;top:23.58px;height:21.73px;line-height:22.64px">6</div>
<div class="d" style="left:35px;top:23.58px;height:21.73px;line-height:22.64px">7</div>
<div class="d" style="left:70px;top:23.58px;height:21.73px;line-height:22.64px">8</div>
<div class="d" style="left:105px;top:23.58px;height:21.73px;line-height:22.64px">9</div>
<div class="d w" style="left:140px;top:23.58px;height:21.73px;line-height:22.64px">10</div>
<div class="d g w" style="left:175px;top:23.58px;height:21.73px;line-height:22.64px">11</div>
<div class="d g w" style="left:210px;top:23.58px;height:21.73px;line-height:22.64px">12</div>
<div class="d w" style="left:0px;top:45.26px;height:21.73px;line-height:23.28px">13</div>
<div class="d w" style="left:35px;top:45.26px;height:21.73px;line-height:23.28px">14</div>
<div class="d w" style="left:70px;top:45.26px;height:21.73px;line-height:23.28px">15</div>
<div class="d w" style="left:105px;top:45.26px;height:21.73px;line-height:23.28px">16</div>
<div class="d w" style="left:140px;top:45.26px;height:21.73px;line-height:23.28px">17</div>
<div class="d g w" style="left:175px;top:45.26px;height:21.73px;line-height:23.28px">18</div>
<div class="d g w" style="left:210px;top:45.26px;height:21.73px;line-height:23.28px">19</div>
<div class="d w" style="left:0px;top:66.94px;height:21.73px;line-height:23.92px">20</div>
<div class="d w" style="left:35px;top:66.94px;height:21.73px;line-height:23.92px">21</div>
<div class="d w" style="left:70px;top:66.94px;height:21.73px;line-height:23.92px">22</div>
<div class="d w" style="left:105px;top:66.94px;height:21.73px;line-height:23.92px">23</div>
<div class="d w" style="left:140px;top:66.94px;height:21.73px;line-height:23.92px">24</div>
<div class="d g w" style="left:175px;top:66.94px;height:21.73px;line-height:23.92px">25</div>
<div class="d g w" style="left:210px;top:66.94px;height:21.73px;line-height:23.92px">26</div>
<div class="d w" style="left:0px;top:88.62px;height:21.73px;line-height:24.56px">27</div>
<div class="d w" style="left:35px;top:88.62px;height:21.73px;line-height:24.56px">28</div>
<div class="d w" style="left:70px;top:88.62px;height:21.73px;line-height:24.56px">29</div>
<div class="d w" style="left:105px;top:88.62px;height:21.73px;line-height:24.56px">30</div>
</div>
<div class="m c" style="left:855.5px;top:510.4px">
<div class="mn" style="top:-45.63px;line-height:22.75px">грудень</div>
<div class="wd" style="left:0px;top:-14.06px;line-height:11.57px">пн</div>
<div class="wd" style="left:35px;top:-14.06px;line-height:11.57px">вт</div>
<div class="wd" style="left:70px;top:-14.06px;line-height:11.57px">ср</div>
<div class="wd" style="left:105px;top:-14.06px;line-height:11.57px">чт</div>
<div class="wd" style="left:140px;top:-14.06px;line-height:11.57px">пт</div>
<div class="wd" style="left:175px;top:-14.06px;line-height:11.57px">сб</div>
<div class="wd" style="left:210px;top:-14.06px;line-height:11.57px">нд</div>
<div class="ln ln3"></div>
<div class="d" style="left:140px;top:1.90px;height:21.73px;line-height:22.00px">1</div>
<div class="d g" style="left:175px;top:1.90px;height:21.73px;line-height:22.00px">2</div>
<div class="d g" style="left:210px;top:1.90px;height:21.73px;line-height:22.00px">3</div>
<div class="d" style="left:0px;top:23.58px;height:21.73px;line-height:22.64px">4</div>
<div class="d" style="left:35px;top:23.58px;height:21.73px;line-height:22.64px">5</div>
<div class="d" style="left:70px;top:23.58px;height:21.73px;line-height:22.64px">6</div>
<div class="d" style="left:105px;top:23.58px;height:21.73px;line-height:22.64px">7</div>
<div class="d" style="left:140px;top:23.58px;height:21.73px;line-height:22.64px">8</div>
<div class="d g" style="left:175px;top:23.58px;height:21.73px;line-height:22.64px">9</div>
<div class="d g w" style="left:210px;top:23.58px;height:21.73px;line-height:22.64px">10</div>
<div class="d w" style="left:0px;top:45.26px;height:21.73px;line-height:23.28px">11</div>
<div class="d w" style="left:35px;top:45.26px;height:21.73px;line-height:23.28px">12</div>
<div class="d w" style="left:70px;top:45.26px;height:21.73px;line-height:23.28px">13</div>
<div class="d w" style="left:105px;top:45.26px;height:21.73px;line-height:23.28px">14</div>
<div class="d w" style="left:140px;top:45.26px;height:21.73px;line-height:23.28px">15</div>
<div class="d g w" style="left:175px;top:45.26px;height:21.73px;line-height:23.28px">16</div>
<div class="d g w" style="left:210px;top:45.26px;height:21.73px;line-height:23.28px">17</div>
<div class="d w" style="left:0px;top:66.94px;height:21.73px;line-height:23.92px">18</div>
<div class="d w" style="left:35px;top:66.94px;height:21.73px;line-height:23.92px">19</div>
<div class="d w" style="left:70px;top:66.94px;height:21.73px;line-height:23.92px">20</div>
<div class="d w" style="left:105px;top:66.94px;height:21.73px;line-height:23.92px">21</div>
<div class="d w" style="left:140px;top:66.94px;height:21.73px;line-height:23.92px">22</div>
<div class="d g w" style="left:175px;top:66.94px;height:21.73px;line-height:23.92px">23</div>
<div class="d g w" style="left:210px;top:66.94px;height:21.73px;line-height:23.92px">24</div>
<div class="d w" style="left:0px;top:88.62px;height:21.73px;line-height:24.56px">25</div>
<div class="d w" style="left:35px;top:88.62px;height:21.73px;line-height:24.56px">26</div>
<div class="d w" style="left:70px;top:88.62px;height:21.73px;line-height:24.56px">27</div>
<div class="d w" style="left:105px;top:88.62px;height:21.73px;line-height:24.56px">28</div>
<div class="d w" style="left:140px;top:88.62px;height:21.73px;line-height:24.56px">29</div>
<div class="d g w" style="left:175px;top:88.62px;height:21.73px;line-height:24.56px">30</div>
<div class="d g w" style="left:210px;top:88.62px;height:21.73px;line-height:24.56px">31</div>
</div>
<svg class="a" style="left:0;top:640px" width="1169" height="130" viewBox="0 640 1169 130"><rect x="59.55" y="653.9" width="1049.95" height="99.9" fill="none" stroke="#000" stroke-width="1.39"/></svg>
<div class="c">
<div class="hd" style="left:70.9px;top:659.04px;line-height:13.52px">1 січ. 2028 р.</div>
<div class="bar" style="left:140.2px;top:659px;height:11px"></div>
<div class="hn" style="left:148.1px;top:659.04px;line-height:13.52px">Новий рік</div>
<div class="hd" style="left:70.9px;top:672.04px;line-height:13.52px">25 січ. 2028 р.</div>
<div class="bar" style="left:140.2px;top:672px;height:11px"></div>
<div class="hn" style="left:148.1px;top:672.04px;line-height:13.52px">Святвечір весни</div>
<div class="hd" style="left:70.9px;top:684.04px;line-height:13.52px">26 січ. 2028 р.</div>
<div class="bar" style="left:140.2px;top:685px;height:11px"></div>
<div class="hn" style="left:148.1px;top:684.04px;line-height:13.52px">Китайський Новий рік</div>
<div class="hd" style="left:70.9px;top:697.04px;line-height:13.52px">27 січ. 2028 р.</div>
<div class="bar" style="left:140.2px;top:698px;height:11px"></div>
<div class="hn" style="left:148.1px;top:697.04px;line-height:13.52px">Свято Золотого тижня Весняного фестивалю</div>
<div class="hd" style="left:70.9px;top:709.04px;line-height:13.52px">28 січ. 2028 р.</div>
<div class="bar" style="left:140.2px;top:710px;height:11px"></div>
<div class="hn" style="left:148.1px;top:709.04px;line-height:13.52px">Свято Золотого тижня Весняного фестивалю</div>
<div class="hd" style="left:70.9px;top:722.04px;line-height:13.52px">29 січ. 2028 р.</div>
<div class="bar" style="left:140.2px;top:723px;height:11px"></div>
<div class="hn" style="left:148.1px;top:722.04px;line-height:13.52px">Свято Золотого тижня Весняного фестивалю</div>
<div class="hd" style="left:70.9px;top:734.04px;line-height:13.52px">30 січ. 2028 р.</div>
<div class="bar" style="left:140.2px;top:736px;height:11px"></div>
<div class="hn" style="left:148.1px;top:734.04px;line-height:13.52px">Свято Золотого тижня Весняного фестивалю</div>
<div class="hd" style="left:373px;top:659.04px;line-height:13.52px">31 січ. 2028 р.</div>
<div class="bar" style="left:505.2px;top:659px;height:11px"></div>
<div class="hn" style="left:513px;top:659.04px;line-height:13.52px">Свято Золотого тижня Весняного фестивалю</div>
<div class="hd" style="left:373px;top:672.04px;line-height:13.52px">8 бер. 2028 р.</div>
<div class="bar" style="left:505.2px;top:672px;height:11px"></div>
<div class="hn" style="left:513px;top:672.04px;line-height:13.52px">Міжнародний жіночий день</div>
<div class="hd" style="left:373px;top:684.04px;line-height:13.52px">4 квіт. 2028 р.</div>
<div class="bar" style="left:505.2px;top:685px;height:11px"></div>
<div class="hn" style="left:513px;top:684.04px;line-height:13.52px">Цін Мін JIE</div>
<div class="hd" style="left:373px;top:697.04px;line-height:13.52px">1 трав. 2028 р.</div>
<div class="bar" style="left:505.2px;top:698px;height:11px"></div>
<div class="hn" style="left:513px;top:697.04px;line-height:13.52px">День Праці</div>
<div class="hd" style="left:373px;top:709.04px;line-height:13.52px">4 трав. 2028 р.</div>
<div class="bar" style="left:505.2px;top:710px;height:11px"></div>
<div class="hn" style="left:513px;top:709.04px;line-height:13.52px">День молоді</div>
<div class="hd" style="left:373px;top:722.04px;line-height:13.52px">28 трав. 2028 р.</div>
<div class="bar" style="left:505.2px;top:723px;height:11px"></div>
<div class="hn" style="left:513px;top:722.04px;line-height:13.52px">Фестиваль човнів-драконів</div>
<div class="hd" style="left:373px;top:734.04px;line-height:13.52px">1 черв. 2028 р.</div>
<div class="bar" style="left:505.2px;top:736px;height:11px"></div>
<div class="hn" style="left:513px;top:734.04px;line-height:13.52px">Дитячий день</div>
<div class="hd" style="left:791.5px;top:659.04px;line-height:13.52px">1 серп. 2028 р.</div>
<div class="bar" style="left:866.4px;top:659px;height:11px"></div>
<div class="hn" style="left:874px;top:659.04px;line-height:13.52px">День армії</div>
<div class="hd" style="left:791.5px;top:672.04px;line-height:13.52px">1 жовт. 2028 р.</div>
<div class="bar" style="left:866.4px;top:672px;height:11px"></div>
<div class="hn" style="left:874px;top:672.04px;line-height:13.52px">Національний день</div>
<div class="hd" style="left:791.5px;top:684.04px;line-height:13.52px">2 жовт. 2028 р.</div>
<div class="bar" style="left:866.4px;top:685px;height:11px"></div>
<div class="hn" style="left:874px;top:684.04px;line-height:13.52px">Свято Золотого тижня до Національного дня</div>
<div class="hd" style="left:791.5px;top:697.04px;line-height:13.52px">3 жовт. 2028 р.</div>
<div class="bar" style="left:866.4px;top:698px;height:11px"></div>
<div class="hn" style="left:874px;top:697.04px;line-height:13.52px">Свято Золотого тижня до Національного дня</div>
<div class="hd" style="left:791.5px;top:709.04px;line-height:13.52px">3 жовт. 2028 р.</div>
<div class="bar" style="left:866.4px;top:710px;height:11px"></div>
<div class="hn" style="left:874px;top:709.04px;line-height:13.52px">Фестиваль, що проходить посеред осені</div>
<div class="hd" style="left:791.5px;top:722.04px;line-height:13.52px">4 жовт. 2028 р.</div>
<div class="bar" style="left:866.4px;top:723px;height:11px"></div>
<div class="hn" style="left:874px;top:722.04px;line-height:13.52px">Свято Золотого тижня до Національного дня</div>
<div class="hd" style="left:791.5px;top:734.04px;line-height:13.52px">5 жовт. 2028 р.</div>
<div class="bar" style="left:866.4px;top:736px;height:11px"></div>
<div class="hn" style="left:874px;top:734.04px;line-height:13.52px">Свято Золотого тижня до Національного дня</div>
</div>
</body></html>
